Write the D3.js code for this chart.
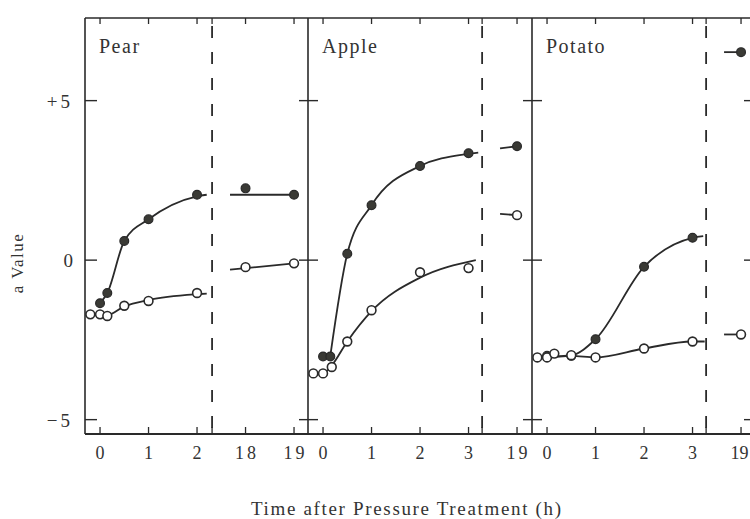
<!DOCTYPE html>
<html><head><meta charset="utf-8">
<script src="https://cdn.jsdelivr.net/npm/d3@7"></script>
<style>body{margin:0;background:#fff}svg{display:block}text{font-family:"Liberation Serif","DejaVu Serif",serif;fill:#333}</style>
</head><body><svg id="c" width="750" height="519"></svg>
<script>
// ---- data (hours after treatment, a value) ----
const panels = ["Pear", "Apple", "Potato"];
const tickLabels = [["0","1","2","18","19"], ["0","1","2","3","19"], ["0","1","2","3","19"]];
const tickHours = [[0,1,2,18,19], [0,1,2,3,19], [0,1,2,3,19]];
const breakAt = [2.31, 3.28, 3.28];          // position of dashed break (h)
const lateOffset = 15;                         // hour 18 drawn at 3, 19 at 4

// markers
const pearFilled = [[0,-1.35],[0.15,-1.03],[0.5,0.6],[1,1.28],[2,2.05],[18,2.25],[19,2.05]];
const pearOpen = [[-0.2,-1.7],[0,-1.7],[0.15,-1.75],[0.5,-1.43],[1,-1.28],[2,-1.03],[18,-0.22],[19,-0.1]];
const appleFilled = [[0,-3.02],[0.15,-3.02],[0.5,0.2],[1,1.72],[2,2.95],[3,3.35],[19,3.57]];
const appleOpen = [[-0.2,-3.55],[0,-3.55],[0.18,-3.35],[0.5,-2.55],[1,-1.57],[2,-0.38],[3,-0.25],[19,1.41]];
const potatoFilled = [[0,-3.0],[0.5,-3.0],[1,-2.48],[2,-0.21],[3,0.7],[19,6.52]];
const potatoOpen = [[-0.2,-3.05],[0,-3.05],[0.15,-2.93],[0.5,-2.98],[1,-3.05],[2,-2.77],[3,-2.55],[19,-2.33]];

// fitted curves (as drawn in the figure)
const pearFilledFit = [[0,-1.35],[0.15,-1.03],[0.5,0.6],[1,1.28],[2,2.0],[2.2,2.05]];
const pearOpenFit = [[-0.27,-1.72],[0,-1.72],[0.15,-1.72],[0.5,-1.45],[1,-1.25],[2,-1.07],[2.2,-1.05]];
const pearFilledLate = [[17.68,2.05],[19,2.05]];
const pearOpenLate = [[17.68,-0.3],[19,-0.1]];
const appleFilledFit = [[0.15,-3.0],[0.5,0.2],[1,1.72],[2,2.95],[3,3.33],[3.2,3.37]];
const appleOpenFit = [[-0.27,-3.55],[0,-3.55],[0.18,-3.3],[0.5,-2.55],[1,-1.6],[2,-0.55],[3.15,0.0]];
const appleFilledLate = [[18.65,3.5],[19,3.57]];
const appleOpenLate = [[18.65,1.45],[19,1.41]];
const potatoFilledFit = [[0,-3.03],[0.5,-2.98],[1,-2.48],[2,-0.21],[3,0.7],[3.22,0.75]];
const potatoOpenFit = [[-0.27,-3.05],[0,-3.05],[0.5,-3.0],[1,-3.05],[2,-2.77],[3,-2.55],[3.25,-2.55]];
const potatoFilledLate = [[18.65,6.52],[19,6.52]];
const potatoOpenLate = [[18.65,-2.33],[19,-2.33]];

const yTicks = [5, 0, -5];
const yTickLabels = ["+5", "0", "\u22125"];

const series = [
  {filled: pearFilled, open: pearOpen, fits: [pearFilledFit, pearOpenFit], late: [pearFilledLate, pearOpenLate]},
  {filled: appleFilled, open: appleOpen, fits: [appleFilledFit, appleOpenFit], late: [appleFilledLate, appleOpenLate]},
  {filled: potatoFilled, open: potatoOpen, fits: [potatoFilledFit, potatoOpenFit], late: [potatoFilledLate, potatoOpenLate]}
];

// ---- layout ----
const svg = d3.select("#c");
const T0 = 18, B0 = 434;
const panelLeft = [85, 308, 532], panelW = [223, 224, 221];
const y = d3.scaleLinear().domain([-5.45, 7.59]).range([B0, T0]);
const ink = "#2a2a2a";
const pos = h => h > 10 ? h - lateOffset : h;

svg.append("line").attr("x1", 85).attr("x2", 760).attr("y1", T0).attr("y2", T0).attr("stroke", ink).attr("stroke-width", 1.6);
svg.append("line").attr("x1", 85).attr("x2", 760).attr("y1", B0).attr("y2", B0).attr("stroke", ink).attr("stroke-width", 1.8);

panels.forEach((name, i) => {
  const L = panelLeft[i];
  const x = d3.scaleLinear().domain([-0.31, -0.31 + panelW[i] / 48.5]).range([L, L + panelW[i]]);
  const g = svg.append("g");
  g.append("line").attr("x1", L).attr("x2", L).attr("y1", T0).attr("y2", B0).attr("stroke", ink).attr("stroke-width", 1.6);
  yTicks.forEach(v => {
    g.append("line").attr("x1", i === 0 ? L : L - 9).attr("x2", L + (i === 0 ? 12 : 10))
      .attr("y1", y(v)).attr("y2", y(v)).attr("stroke", ink).attr("stroke-width", 1.4);
  });
  const tks = tickHours[i].map(pos).concat([breakAt[i]]);
  tks.forEach(p => {
    g.append("line").attr("x1", x(p)).attr("x2", x(p)).attr("y1", B0).attr("y2", B0 - 7).attr("stroke", ink).attr("stroke-width", 1.3);
    g.append("line").attr("x1", x(p)).attr("x2", x(p)).attr("y1", T0).attr("y2", T0 + 6).attr("stroke", ink).attr("stroke-width", 1.3);
  });
  tickHours[i].forEach((h, k) => {
    const two = tickLabels[i][k].length > 1;
    const edge = i === 2 && k === tickHours[i].length - 1;
    g.append("text").attr("x", x(pos(h)) + (edge ? -1.5 : two ? 1.5 : 0)).attr("y", 459).attr("text-anchor", "middle")
      .attr("font-size", 18).attr("letter-spacing", two && !edge ? 3 : 0).text(tickLabels[i][k]);
  });
  g.append("line").attr("x1", x(breakAt[i])).attr("x2", x(breakAt[i])).attr("y1", T0 + 8).attr("y2", B0)
    .attr("stroke", ink).attr("stroke-width", 1.8).attr("stroke-dasharray", "12,14");
  g.append("text").attr("x", L + 14).attr("y", 53).attr("font-size", 20).attr("letter-spacing", 1.5).text(name);

  const s = series[i];
  const line = d3.line().x(d => x(pos(d[0]))).y(d => y(d[1])).curve(d3.curveMonotoneX);
  s.fits.concat(s.late).forEach(f => {
    g.append("path").attr("d", line(f)).attr("fill", "none").attr("stroke", ink).attr("stroke-width", 1.8);
  });
  g.selectAll(".f").data(s.filled).enter().append("circle")
    .attr("cx", d => x(pos(d[0]))).attr("cy", d => y(d[1])).attr("r", 4.4)
    .attr("fill", "#3a3a35").attr("stroke", ink).attr("stroke-width", 1.2);
  g.selectAll(".o").data(s.open).enter().append("circle")
    .attr("cx", d => x(pos(d[0]))).attr("cy", d => y(d[1])).attr("r", 4.4)
    .attr("fill", "#fff").attr("stroke", ink).attr("stroke-width", 1.6);
});
svg.append("line").attr("x1", 753).attr("x2", 753).attr("y1", T0).attr("y2", B0).attr("stroke", ink).attr("stroke-width", 1.6);
yTicks.forEach(v => svg.append("line").attr("x1", 744).attr("x2", 760).attr("y1", y(v)).attr("y2", y(v)).attr("stroke", ink).attr("stroke-width", 1.4));

yTicks.forEach((v, k) => {
  svg.append("text").attr("x", 73).attr("y", y(v) + 7).attr("text-anchor", "end").attr("font-size", 19)
    .attr("letter-spacing", v === 0 ? 0 : 3).text(yTickLabels[k]);
});
svg.append("text").attr("transform", "translate(23,263) rotate(-90)").attr("text-anchor", "middle")
  .attr("font-size", 17).attr("letter-spacing", 1.5).text("a Value");
svg.append("text").attr("x", 251).attr("y", 515).attr("font-size", 19)
  .attr("textLength", 310).attr("lengthAdjust", "spacing").text("Time after Pressure Treatment (h)");
</script></body></html>
